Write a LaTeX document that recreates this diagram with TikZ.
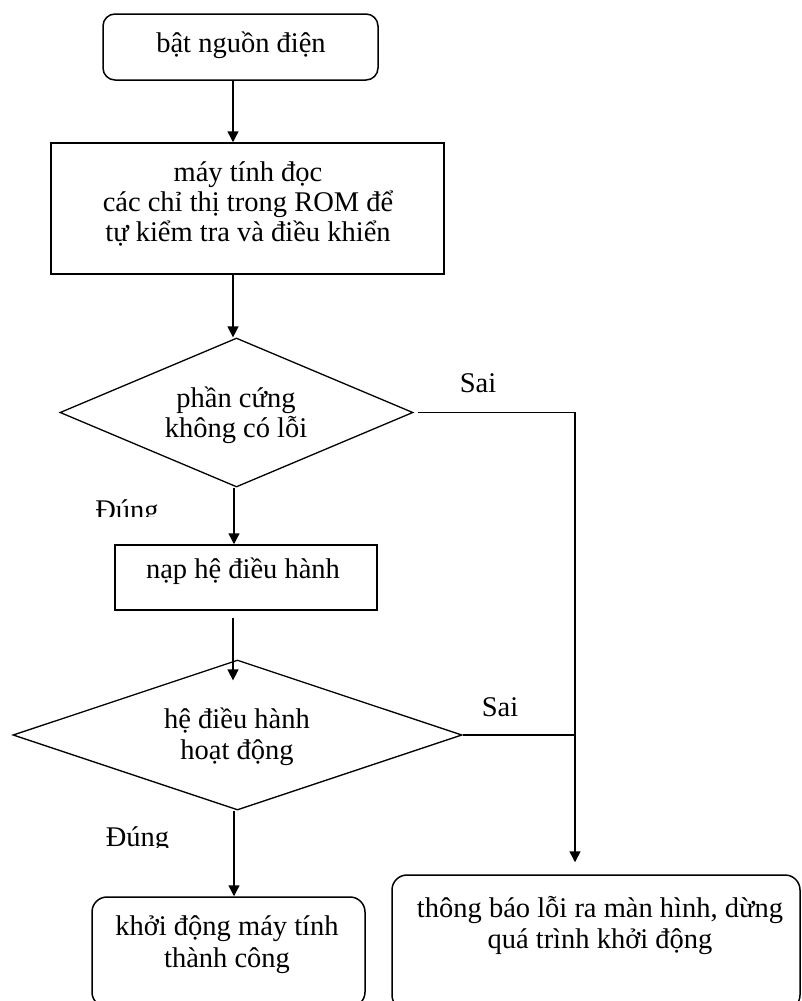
\documentclass[tikz,border=0pt]{standalone}
\usepackage{fontspec}
\setmainfont{Liberation Serif}
\usetikzlibrary{shapes.geometric,arrows.meta,calc}
\begin{document}
\begin{tikzpicture}[x=1pt,y=-1pt,line width=1.5pt,
  lbl/.style={font=\fontsize{28.5}{31}\selectfont, inner sep=0pt, align=center, anchor=base},
  roundbox/.style={draw, rectangle, rounded corners=12pt, inner sep=0pt},
  plainbox/.style={draw, rectangle, inner sep=0pt},
  decision/.style={draw, diamond, inner sep=0pt, line width=1.3pt},
  arr/.style={-{Triangle[length=11pt,width=11pt]}}]
\useasboundingbox (0,0) rectangle (802,1001);
\clip (0,0) rectangle (802,1001);

% shapes
\node[roundbox, minimum width=275pt, minimum height=66pt] (start) at (240.5,47) {};
\node[plainbox, minimum width=393pt, minimum height=131pt] (read) at (247.5,208.5) {};
\node[decision, minimum width=353pt, minimum height=149pt] (hw) at (236.5,412.5) {};
\node[plainbox, minimum width=262pt, minimum height=65pt] (load) at (246,577.5) {};
\node[decision, minimum width=449pt, minimum height=150pt] (os) at (237.5,735) {};
\node[roundbox, rounded corners=15pt, minimum width=273pt, minimum height=110pt] (ok) at (228.5,952) {};
\node[roundbox, rounded corners=15pt, minimum width=408pt, minimum height=135pt] (err) at (596,942.5) {};

% texts (multi-line nodes: base anchor = last line's baseline)
\node[lbl] (startT) at (241,52) {bật nguồn điện};
\node[lbl, font=\fontsize{28.5}{30}\selectfont] (readT) at (248,241) {máy tính đọc\\các chỉ thị trong ROM để\\tự kiểm tra và điều khiển};
\node[lbl, font=\fontsize{28.5}{29.5}\selectfont] (hwT) at (236,437) {phần cứng\\không có lỗi};
\node[lbl] (loadT) at (243,578) {nạp hệ điều hành};
\node[lbl] (osT) at (237,759) {hệ điều hành\\hoạt động};
\node[lbl, font=\fontsize{28.5}{32}\selectfont] (okT) at (227,967) {khởi động máy tính\\thành công};
\node[lbl] (errT) at (600,948) {thông báo lỗi ra màn hình, dừng\\quá trình khởi động};
\node[lbl] (sai1) at (478,392) {Sai};
\node[lbl] (sai2) at (500,716) {Sai};
\begin{scope}
  \clip (80,480) rectangle (200,516);
  \node[lbl] (yes1) at (127,519) {Đúng};
\end{scope}
\begin{scope}
  \clip (80,810) rectangle (200,847);
  \node[lbl] (yes2) at (137.5,846) {Đúng};
\end{scope}

% connectors
\coordinate (ax) at (233,0);
\coordinate (bx) at (234,0);
\coordinate (rx) at (575,0);
\draw[arr] (start.south -| ax) -- (read.north -| ax);
\draw[arr] (read.south -| ax) -- (hw.north -| ax);
\draw[arr] (hw.south -| bx) -- (load.north -| bx);
\draw[arr] ($(load.south -| ax)+(0,7)$) -- ($(os.north -| ax)+(0,21)$);
\draw[arr] (os.south -| bx) -- (ok.north -| bx);
\draw[arr] ($(hw.east)+(4,0)$) -| ($(err.north -| rx)+(0,-12)$);
\draw (os.east) -- (os.east -| rx);
\end{tikzpicture}
\end{document}
